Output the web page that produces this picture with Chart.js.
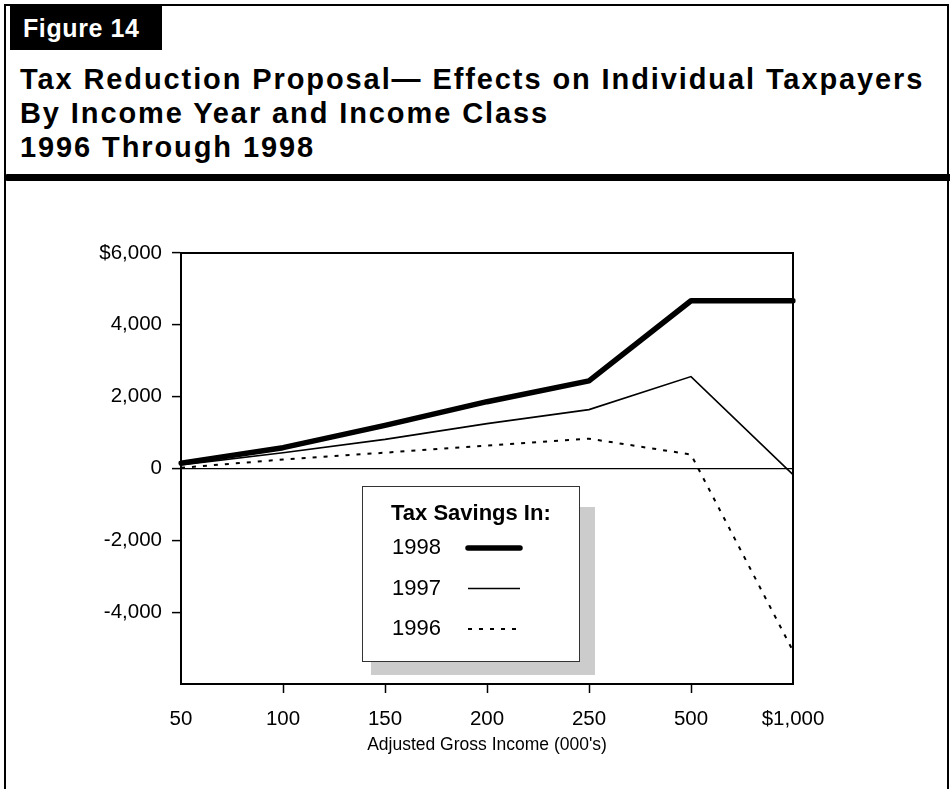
<!DOCTYPE html>
<html lang="en">
<head>
<meta charset="UTF-8">
<title>Figure 14</title>
<script src="https://cdn.jsdelivr.net/npm/chart.js"></script>
<style>
  body { margin: 0; background: #fff; font-family: "Liberation Sans", Arial, sans-serif; }
  .page { position: relative; width: 950px; height: 789px; overflow: hidden; background: #fff; }
  .frame { position: absolute; left: 4px; top: 4px; width: 945px; height: 820px; border: 2px solid #000; box-sizing: border-box; }
  .fig-tag { position: absolute; left: 10px; top: 5px; width: 152px; height: 45px; background: #000; color: #fff;
             font-weight: bold; font-size: 25px; line-height: 46px; padding-left: 13px; box-sizing: border-box; letter-spacing: 0.6px; }
  .title { position: absolute; left: 20px; top: 62px; font-weight: bold; font-size: 29px; line-height: 34px; color: #000; letter-spacing: 1.9px; }
  .rule { position: absolute; left: 4px; top: 174px; width: 950px; height: 7px; background: #000; border-radius: 4px; }
  .chart-box { position: absolute; left: 0; top: 190px; width: 950px; height: 599px; }
</style>
</head>
<body>
<div class="page">
  <div class="frame"></div>
  <div class="fig-tag">Figure 14</div>
  <div class="title">Tax Reduction Proposal— Effects on Individual Taxpayers<br>By Income Year and Income Class<br>1996 Through 1998</div>
  <div class="rule"></div>
  <div class="chart-box"><canvas id="savingsChart"></canvas></div>
</div>
<script>
  // Adjusted gross income classes (000's) and tax savings per taxpayer
  const incomeClasses = ['50', '100', '150', '200', '250', '500', '$1,000'];
  const savings1998 = [150, 580, 1200, 1860, 2440, 4670, 4670];
  const savings1997 = [100, 440, 810, 1250, 1640, 2560, -170];
  const savings1996 = [20, 250, 440, 640, 830, 390, -5080];

  const FONT = '"Liberation Sans", Arial, sans-serif';

  // box around the plot
  const plotFrame = {
    id: 'plotFrame',
    afterDraw(chart) {
      const { ctx, chartArea: a } = chart;
      ctx.save();
      ctx.strokeStyle = '#000';
      ctx.lineWidth = 2;
      ctx.strokeRect(a.left, a.top, a.right - a.left, a.bottom - a.top);
      ctx.restore();
    }
  };

  // "Tax Savings In:" key with its grey drop shadow
  const savingsKey = {
    id: 'savingsKey',
    afterDatasetsDraw(chart, args, opts) {
      const ctx = chart.ctx;
      ctx.save();
      ctx.fillStyle = '#cccccc';
      ctx.fillRect(opts.x + 9, opts.y + 21, opts.w + 7, opts.h - 7);
      ctx.fillStyle = '#fff';
      ctx.fillRect(opts.x, opts.y, opts.w, opts.h);
      ctx.strokeStyle = '#333';
      ctx.lineWidth = 1;
      ctx.strokeRect(opts.x + 0.5, opts.y + 0.5, opts.w, opts.h);

      ctx.fillStyle = '#000';
      ctx.textBaseline = 'middle';
      ctx.textAlign = 'left';
      ctx.font = 'bold 22px ' + FONT;
      ctx.fillText('Tax Savings In:', opts.x + 29, opts.y + 28);

      ctx.font = '22px ' + FONT;
      chart.data.datasets.forEach((ds, i) => {
        const y = opts.y + 62 + i * 40.5;
        ctx.fillStyle = '#000';
        ctx.fillText(ds.label, opts.x + 30, y);
        ctx.beginPath();
        ctx.strokeStyle = '#000';
        ctx.lineWidth = ds.borderWidth;
        ctx.lineCap = i === 0 ? 'round' : 'butt';
        ctx.setLineDash(ds.borderDash || []);
        ctx.moveTo(opts.x + 106, y);
        ctx.lineTo(opts.x + 158, y);
        ctx.stroke();
        ctx.setLineDash([]);
      });
      ctx.restore();
    }
  };

  new Chart(document.getElementById('savingsChart'), {
    type: 'line',
    data: {
      labels: incomeClasses,
      datasets: [
        { label: '1998', data: savings1998, borderColor: '#000', borderWidth: 5.5, borderCapStyle: 'round', borderJoinStyle: 'round' },
        { label: '1997', data: savings1997, borderColor: '#000', borderWidth: 1.6 },
        { label: '1996', data: savings1996, borderColor: '#000', borderWidth: 2, borderDash: [4, 7] }
      ]
    },
    options: {
      responsive: true,
      maintainAspectRatio: false,
      animation: false,
      tension: 0,
      elements: { point: { radius: 0, hoverRadius: 0 } },
      layout: { padding: { left: 0, right: 157, top: 63, bottom: 0 } },
      plugins: {
        legend: { display: false },
        tooltip: { enabled: false },
        savingsKey: { x: 362, y: 296, w: 217, h: 175 }
      },
      scales: {
        x: {
          offset: false,
          afterFit(scale) { scale.height = 105; },
          border: { display: true, color: '#000', width: 2 },
          grid: {
            drawOnChartArea: false,
            tickLength: 9,
            tickWidth: 1.5,
            tickColor: c => (c.index === 0 || c.index === incomeClasses.length - 1) ? 'rgba(0,0,0,0)' : '#000'
          },
          ticks: { color: '#000', padding: 14, maxRotation: 0, font: { family: FONT, size: 20.5 } },
          title: {
            display: true,
            text: "Adjusted Gross Income (000's)",
            color: '#000',
            padding: { top: 0, bottom: 33 },
            font: { family: FONT, size: 17.5 }
          }
        },
        y: {
          min: -6000,
          max: 6000,
          afterFit(scale) { scale.width = 181; },
          border: { display: true, color: '#000', width: 2 },
          grid: {
            drawOnChartArea: true,
            color: c => c.tick && c.tick.value === 0 ? '#000' : 'rgba(0,0,0,0)',
            lineWidth: 1.2,
            tickLength: 9,
            tickWidth: 1.5,
            tickColor: c => c.tick && c.tick.value === -6000 ? 'rgba(0,0,0,0)' : '#000'
          },
          ticks: {
            stepSize: 2000,
            color: '#000',
            padding: 10,
            font: { family: FONT, size: 20.5 },
            callback: v => v === 6000 ? '$6,000' : v === -6000 ? '' : v.toLocaleString('en-US')
          }
        }
      }
    },
    plugins: [plotFrame, savingsKey]
  });
</script>
</body>
</html>
